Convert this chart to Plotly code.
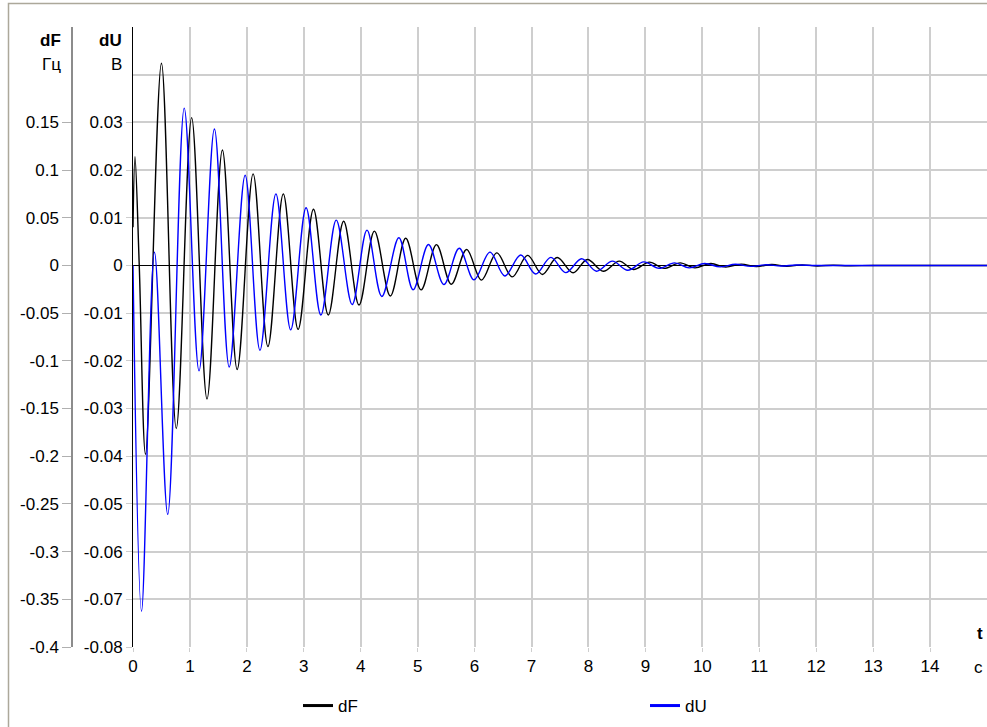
import plotly.graph_objects as go

# dF (Гц) curve: extrema (t in s)
dF_t = [0.0, 0.035, 0.11, 0.22, 0.50, 0.76, 1.03, 1.30, 1.57, 1.83, 2.11, 2.37, 2.64, 2.90,
        3.17, 3.43, 3.70, 3.97, 4.24, 4.52, 4.79, 5.06, 5.33, 5.59, 5.86, 6.12, 6.39,
        6.66, 6.93, 7.19, 7.45, 7.73, 7.98, 8.26, 8.54, 8.79, 9.07, 9.33, 9.61, 9.87,
        10.15, 10.41, 10.68, 10.95, 11.22, 11.48, 11.75, 12.02, 12.30, 12.56, 13.0,
        14.0, 15.0]
dF_v = [0.04, 0.114, 0.0, -0.198, 0.212, -0.171, 0.155, -0.140, 0.121, -0.109, 0.096, -0.085,
        0.075, -0.067, 0.059, -0.052, 0.0463, -0.0415, 0.036, -0.032, 0.0285, -0.0256,
        0.0218, -0.0197, 0.0167, -0.0154, 0.0132, -0.012, 0.0106, -0.0094, 0.0083,
        -0.0077, 0.0063, -0.006, 0.0045, -0.0042, 0.0035, -0.0031, 0.0027, -0.0025,
        0.002, -0.0017, 0.0014, -0.0012, 0.001, -0.0008, 0.0006, -0.0005, 0.0003,
        -0.0003, 0.0, 0.0, 0.0]

# dU (В) curve: extrema
dU_t = [0.0, 0.15, 0.377, 0.61, 0.90, 1.16, 1.43, 1.69, 1.97, 2.23, 2.51, 2.77, 3.04, 3.30,
        3.57, 3.85, 4.11, 4.37, 4.67, 4.92, 5.19, 5.46, 5.73, 5.99, 6.27, 6.53, 6.81,
        7.07, 7.34, 7.60, 7.88, 8.14, 8.42, 8.69, 8.97, 9.24, 9.51, 9.77, 10.04, 10.31,
        10.58, 10.85, 11.12, 11.38, 11.65, 12.0, 13.0, 14.0, 15.0]
dU_v = [0.0, -0.0725, 0.0028, -0.0522, 0.033, -0.0221, 0.0286, -0.0213, 0.0189, -0.0178,
        0.015, -0.0135, 0.0121, -0.0104, 0.0095, -0.0082, 0.0074, -0.0065, 0.0058,
        -0.0051, 0.0044, -0.004, 0.0036, -0.003, 0.0028, -0.0022, 0.0022, -0.0018,
        0.0017, -0.0015, 0.0014, -0.0012, 0.0009, -0.001, 0.00075, -0.0006, 0.00055,
        -0.0005, 0.0004, -0.0003, 0.00025, -0.0002, 0.00015, -0.00012, 0.0001, 0.0,
        0.0, 0.0, 0.0]

x_ticks = list(range(0, 15))
dF_ticks = [-0.4, -0.35, -0.3, -0.25, -0.2, -0.15, -0.1, -0.05, 0, 0.05, 0.1, 0.15]
dF_labels = ["-0.4", "-0.35", "-0.3", "-0.25", "-0.2", "-0.15", "-0.1", "-0.05", "0",
             "0.05", "0.1", "0.15"]
dF_extra_grid = [0.2, 0.25]
dU_ticks = [-0.08, -0.07, -0.06, -0.05, -0.04, -0.03, -0.02, -0.01, 0, 0.01, 0.02, 0.03]
dU_labels = ["-0.08", "-0.07", "-0.06", "-0.05", "-0.04", "-0.03", "-0.02", "-0.01", "0",
             "0.01", "0.02", "0.03"]

W, H = 987, 727
MT, MB = 27, 80
PH = H - MT - MB
FONT = "Liberation Sans, Arial, sans-serif"
FS = 17
GRID = "#cecece"
C_DF = "black"
C_DU = "#0000ff"


def py(pix):
    return (H - MB - pix) / PH


fig = go.Figure()
fig.add_trace(go.Scatter(x=dF_t, y=dF_v, name="dF", mode="lines", showlegend=False,
                         line=dict(color=C_DF, width=1.4, shape="spline", smoothing=1.0),
                         yaxis="y"))
fig.add_trace(go.Scatter(x=dU_t, y=dU_v, name="dU", mode="lines", showlegend=False,
                         line=dict(color=C_DU, width=1.4, shape="spline", smoothing=1.0),
                         yaxis="y2"))
# legend entries (thicker key lines, as in the original legend)
fig.add_trace(go.Scatter(x=[None], y=[None], name="dF", mode="lines", showlegend=True,
                         line=dict(color=C_DF, width=3), yaxis="y", legend="legend"))
fig.add_trace(go.Scatter(x=[None], y=[None], name="dU", mode="lines", showlegend=True,
                         line=dict(color=C_DU, width=3), yaxis="y2", legend="legend2"))

leg_common = dict(orientation="h", yanchor="middle", xanchor="left", visible=True,
                  font=dict(size=FS), bgcolor="rgba(0,0,0,0)", borderwidth=0)

fig.update_layout(
    width=W, height=H,
    showlegend=True,
    margin=dict(l=0, r=0, t=MT, b=MB, autoexpand=False),
    paper_bgcolor="white", plot_bgcolor="white",
    font=dict(family=FONT, size=FS, color="black"),
    xaxis=dict(domain=[133 / W, 1], range=[0, 15], tickvals=x_ticks,
               ticktext=[str(v) for v in x_ticks],
               showgrid=True, gridcolor=GRID, gridwidth=1.5, zeroline=False,
               showline=False, ticks="outside", ticklen=4, tickcolor=GRID),
    yaxis=dict(range=[-0.4, 0.25], tickvals=dF_ticks, ticktext=dF_labels,
               anchor="free", position=72 / W, side="left",
               showgrid=True, gridcolor=GRID, gridwidth=1.5,
               minor=dict(tickvals=dF_extra_grid, showgrid=True, gridcolor=GRID,
                          gridwidth=1.5, ticks=""),
               zeroline=True, zerolinecolor="black", zerolinewidth=1,
               showline=True, linecolor="#8c8c8c", linewidth=1.5,
               ticks="outside", ticklen=9, tickcolor="#b0b0b0"),
    yaxis2=dict(range=[-0.08, 0.05], tickvals=dU_ticks, ticktext=dU_labels,
                overlaying="y", anchor="x", side="left",
                showgrid=False, zeroline=False,
                showline=True, linecolor="black", linewidth=1,
                ticks="outside", ticklen=6, tickcolor=GRID),
    legend=dict(x=298 / W, y=py(706), **leg_common),
    legend2=dict(x=645 / W, y=py(706), **leg_common),
)

ann = [
    dict(text="<b>dF</b>", x=63, y=40),
    dict(text="Гц", x=63, y=64),
    dict(text="<b>dU</b>", x=124, y=40),
    dict(text="В", x=124, y=64),
    dict(text="<b>t</b>", x=985, y=633),
    dict(text="c", x=985, y=667),
]
for a in ann:
    fig.add_annotation(text=a["text"], xref="paper", yref="paper",
                       x=a["x"] / W, y=py(a["y"]),
                       xanchor="right", yanchor="middle", showarrow=False,
                       font=dict(family=FONT, size=FS, color="black"))

# outer frame of the chart panel
fig.add_shape(type="path", xref="paper", yref="paper",
              path="M {x0},{y1} L {x0},{y0} L {x1},{y0}".format(
                  x0=8.5 / W, y0=py(3.5), x1=1.0, y1=py(740)),
              line=dict(color="#aca89a", width=1.5), layer="below")

fig.write_html("out.html", config={"displayModeBar": False},
               post_script="document.body.style.margin='0px';")
